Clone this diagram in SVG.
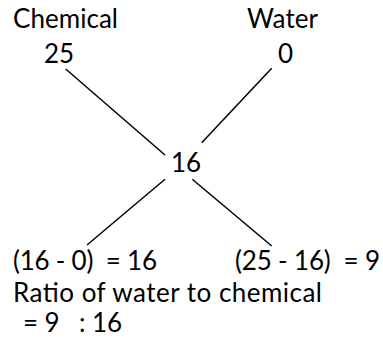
<svg xmlns="http://www.w3.org/2000/svg" width="383" height="354" viewBox="0 0 383 354">
<style>
text{font-family:Lato,"Open Sans","Liberation Sans",sans-serif;font-size:26px;fill:#000}
.ln{stroke:#000;stroke-width:1.5;fill:none}
</style>
<rect width="383" height="354" fill="#fff"/>
<g id="chemical"><text x="13" y="28" textLength="105" lengthAdjust="spacing">Chemical</text><text x="44" y="63">25</text></g>
<g id="water"><text x="247" y="28" textLength="71" lengthAdjust="spacing">Water</text><text x="278" y="63">0</text></g>
<g id="mix"><text x="171" y="172">16</text></g>
<g id="connectors">
<line class="ln" x1="65.7" y1="69" x2="165" y2="155"/>
<line class="ln" x1="271.7" y1="68.3" x2="201.7" y2="142.7"/>
<line class="ln" x1="165" y1="179.3" x2="87" y2="245"/>
<line class="ln" x1="192.3" y1="179.3" x2="271.7" y2="246"/>
</g>
<g id="results">
<text x="13" y="270" xml:space="preserve" textLength="144" lengthAdjust="spacing">(16 - 0)  = 16</text>
<text x="235" y="270" xml:space="preserve" textLength="145" lengthAdjust="spacing">(25 - 16)  = 9</text>
<text x="13" y="302" textLength="309" lengthAdjust="spacing">Ratio of water to chemical</text>
<text x="23" y="332" xml:space="preserve" textLength="99" lengthAdjust="spacing">= 9   : 16</text>
</g>
</svg>
